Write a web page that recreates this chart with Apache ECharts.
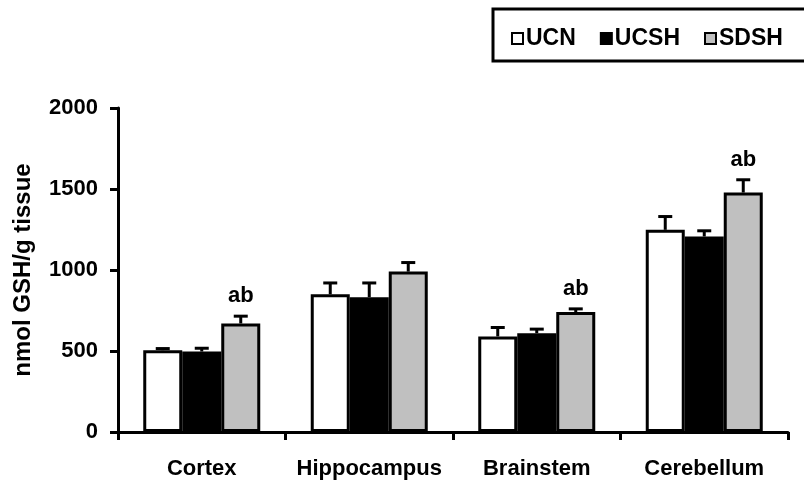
<!DOCTYPE html>
<html>
<head>
<meta charset="utf-8">
<script src="https://cdn.jsdelivr.net/npm/echarts@6/dist/echarts.min.js"></script>
<style>
html,body{margin:0;padding:0;background:#fff;}
#main{width:804px;height:489px;}
</style>
</head>
<body>
<div id="main"></div>
<script>
var categories = ['Cortex', 'Hippocampus', 'Brainstem', 'Cerebellum'];
var ucn = [505, 850, 590, 1248];
var ucnErr = [10, 70, 55, 82];
var ucsh = [497, 832, 610, 1207];
var ucshErr = [20, 88, 25, 35];
var sdsh = [670, 990, 740, 1478];
var sdshErr = [45, 56, 20, 79];
var sdshMarks = ['ab', '', 'ab', 'ab'];
var yTicks = [0, 500, 1000, 1500, 2000];

var FONT = "'Liberation Sans', Arial, sans-serif";
var BAR_W = 39;

var myChart = echarts.init(document.getElementById('main'));

function errData(vals, errs, marks){
	var out = [];
	for (var i = 0; i < vals.length; i++) {
		out.push([i, vals[i], errs[i], marks ? marks[i] : '']);
	}
	return out;
}

function errSeries(vals, errs, marks, pos){
	return {
		type: 'custom',
		z: 5,
		silent: true,
		data: errData(vals, errs, marks),
		encode: { x: 0, y: 1 },
		renderItem: function(params, api){
			var base = api.coord([api.value(0), api.value(1)]);
			var top = api.coord([api.value(0), api.value(1) + api.value(2)]);
			var x = base[0] + pos * BAR_W;
			var children = [
				{ type: 'line', shape: { x1: x, y1: base[1], x2: x, y2: top[1] },
				  style: { stroke: '#000', lineWidth: 3 } },
				{ type: 'line', shape: { x1: x - 7, y1: top[1], x2: x + 7, y2: top[1] },
				  style: { stroke: '#000', lineWidth: 3 } }
			];
			var mark = marks ? marks[params.dataIndex] : '';
			if (mark) {
				children.push({
					type: 'text',
					style: { x: x, y: top[1] - 9, text: mark, fill: '#000',
						font: 'bold 22px ' + FONT, align: 'center', verticalAlign: 'bottom' }
				});
			}
			return { type: 'group', children: children };
		}
	};
}

myChart.setOption({
	animation: false,
	backgroundColor: '#fff',
	grid: { left: 118, right: 16, top: 108, bottom: 57 },
	graphic: [{
		type: 'rect',
		shape: { x: 493, y: 9, width: 340, height: 52 },
		style: { fill: 'none', stroke: '#000', lineWidth: 3 }
	}],
	legend: {
		left: 506,
		top: 22,
		itemWidth: 11,
		itemHeight: 11,
		itemGap: 24,
		icon: 'rect',
		data: ['UCN', 'UCSH', 'SDSH'],
		textStyle: { fontFamily: FONT, fontWeight: 'bold', fontSize: 23, color: '#000', padding: [0, 0, 0, -2] }
	},
	xAxis: {
		type: 'category',
		data: categories,
		axisLine: { lineStyle: { color: '#000', width: 3 } },
		axisTick: { show: true, interval: 0, length: 8, lineStyle: { color: '#000', width: 3 } },
		axisLabel: { interval: 0, margin: 26, color: '#000', fontFamily: FONT, fontWeight: 'bold', fontSize: 22 }
	},
	yAxis: {
		type: 'value',
		min: 0,
		max: 2000,
		interval: 500,
		name: 'nmol GSH/g tissue',
		nameLocation: 'middle',
		nameGap: 83,
		nameTextStyle: { color: '#000', fontFamily: FONT, fontWeight: 'bold', fontSize: 24 },
		splitLine: { show: false },
		axisLine: { show: true, lineStyle: { color: '#000', width: 3 } },
		axisTick: { show: true, length: 8, lineStyle: { color: '#000', width: 3 } },
		axisLabel: {
			margin: 20, color: '#000', fontFamily: FONT, fontWeight: 'bold', fontSize: 22,
			formatter: function(v){ return yTicks.indexOf(v) >= 0 ? String(v) : ''; }
		}
	},
	series: [
		{ name: 'UCN', type: 'bar', data: ucn, barWidth: BAR_W, barGap: '0%',
		  itemStyle: { color: '#fff', borderColor: '#000', borderWidth: 3 } },
		{ name: 'UCSH', type: 'bar', data: ucsh, barWidth: BAR_W, barGap: '0%',
		  itemStyle: { color: '#000', borderColor: '#000', borderWidth: 3 } },
		{ name: 'SDSH', type: 'bar', data: sdsh, barWidth: BAR_W, barGap: '0%',
		  itemStyle: { color: '#c0c0c0', borderColor: '#000', borderWidth: 3 } },
		errSeries(ucn, ucnErr, null, -1),
		errSeries(ucsh, ucshErr, null, 0),
		errSeries(sdsh, sdshErr, sdshMarks, 1)
	]
});
</script>
</body>
</html>
